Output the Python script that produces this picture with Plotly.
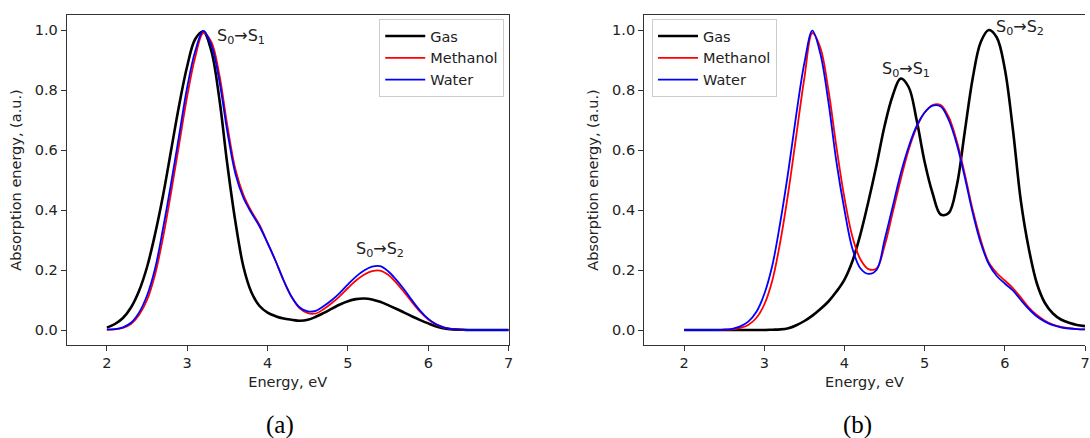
import plotly.graph_objects as go

# Energy grid (eV)
energy = [round(2.0 + 0.1 * i, 1) for i in range(51)]

# Panel (a)
a_gas = [0.008, 0.02, 0.04, 0.075, 0.13, 0.21, 0.32, 0.45, 0.60, 0.75,
         0.88, 0.97, 0.995, 0.93, 0.77, 0.55, 0.36, 0.21, 0.125, 0.08,
         0.058, 0.046, 0.038, 0.034, 0.031, 0.034, 0.044, 0.057, 0.071, 0.085,
         0.096, 0.103, 0.105, 0.102, 0.094, 0.083, 0.071, 0.058, 0.045, 0.033,
         0.022, 0.012, 0.005, 0.002, 0.001, 0.0, 0.0, 0.0, 0.0, 0.0, 0.0]
a_methanol = [0.001, 0.002, 0.007, 0.02, 0.05, 0.1, 0.185, 0.31, 0.46, 0.62,
              0.78, 0.91, 0.99, 0.96, 0.85, 0.68, 0.535, 0.45, 0.395, 0.35,
              0.29, 0.23, 0.165, 0.11, 0.072, 0.056, 0.055, 0.07, 0.09, 0.113,
              0.14, 0.165, 0.184, 0.196, 0.198, 0.184, 0.158, 0.126, 0.092, 0.06,
              0.035, 0.018, 0.008, 0.003, 0.001, 0.0, 0.0, 0.0, 0.0, 0.0, 0.0]
a_water = [0.001, 0.003, 0.009, 0.024, 0.058, 0.115, 0.205, 0.34, 0.49, 0.65,
           0.81, 0.93, 0.997, 0.95, 0.83, 0.66, 0.52, 0.44, 0.39, 0.345,
           0.29, 0.23, 0.165, 0.11, 0.075, 0.062, 0.064, 0.08, 0.10, 0.124,
           0.152, 0.178, 0.198, 0.211, 0.213, 0.196, 0.168, 0.135, 0.098, 0.064,
           0.037, 0.019, 0.008, 0.003, 0.001, 0.0, 0.0, 0.0, 0.0, 0.0, 0.0]

# Panel (b)
b_gas = [0.0, 0.0, 0.0, 0.0, 0.0, 0.0, 0.0, 0.0, 0.0, 0.0,
         0.0, 0.001, 0.002, 0.006, 0.016, 0.03, 0.048, 0.07, 0.095, 0.128,
         0.168, 0.23, 0.32, 0.43, 0.55, 0.68, 0.78, 0.838, 0.81, 0.70,
         0.56, 0.455, 0.385, 0.39, 0.48, 0.66, 0.84, 0.96, 1.0, 0.975,
         0.87, 0.67, 0.43, 0.27, 0.155, 0.09, 0.055, 0.035, 0.024, 0.017, 0.013]
b_methanol = [0.0, 0.0, 0.0, 0.0, 0.0, 0.001, 0.002, 0.007, 0.017, 0.04,
              0.085, 0.165, 0.295, 0.46, 0.65, 0.84, 0.99, 0.94, 0.80, 0.61,
              0.44, 0.31, 0.235, 0.203, 0.205, 0.28, 0.39, 0.50, 0.60, 0.675,
              0.725, 0.75, 0.75, 0.71, 0.63, 0.52, 0.40, 0.30, 0.225, 0.19,
              0.165, 0.14, 0.108, 0.075, 0.05, 0.031, 0.018, 0.01, 0.006, 0.003, 0.002]
b_water = [0.0, 0.0, 0.0, 0.0, 0.0, 0.001, 0.004, 0.012, 0.028, 0.06,
           0.12, 0.215, 0.36, 0.53, 0.72, 0.89, 0.998, 0.92, 0.76, 0.56,
           0.40, 0.27, 0.205, 0.187, 0.20, 0.30, 0.41, 0.52, 0.61, 0.68,
           0.725, 0.748, 0.745, 0.70, 0.62, 0.51, 0.39, 0.29, 0.22, 0.18,
           0.155, 0.132, 0.10, 0.07, 0.045, 0.028, 0.016, 0.009, 0.005, 0.003, 0.002]

series_names = ["Gas", "Methanol", "Water"]
series_colors = ["#000000", "#ff0000", "#0000ff"]
series_widths = [2.6, 1.8, 1.8]

x_ticks = [2, 3, 4, 5, 6, 7]
y_ticks = [0.0, 0.2, 0.4, 0.6, 0.8, 1.0]
y_tick_text = ["0.0", "0.2", "0.4", "0.6", "0.8", "1.0"]

W, H = 1090, 438
FONT = "DejaVu Sans"

fig = go.Figure()

for panel, (data, xa, ya, lg) in enumerate([
        ((a_gas, a_methanol, a_water), "x", "y", "legend"),
        ((b_gas, b_methanol, b_water), "x2", "y2", "legend2")]):
    for i, vals in enumerate(data):
        fig.add_trace(go.Scatter(
            x=energy, y=vals, mode="lines", name=series_names[i],
            line=dict(color=series_colors[i], width=series_widths[i],
                      shape="spline", smoothing=1.0),
            xaxis=xa, yaxis=ya, legend=lg,
            legendgroup=f"{lg}{i}", showlegend=True))

def xaxis_style(domain, mirror):
    return dict(domain=domain, range=[1.5, 7.0], tickvals=x_ticks,
                showline=True, linecolor="#333", linewidth=1, mirror=mirror,
                ticks="outside", ticklen=5, tickcolor="#333",
                showgrid=False, zeroline=False,
                tickfont=dict(family=FONT, size=14.5, color="#222"),
                title=dict(text="Energy, eV", standoff=6,
                           font=dict(family=FONT, size=14.5, color="#222")))

def yaxis_style(anchor, mirror):
    return dict(domain=[93 / H, 423 / H], range=[-0.05, 1.05], anchor=anchor,
                tickvals=y_ticks, ticktext=y_tick_text,
                showline=True, linecolor="#333", linewidth=1, mirror=mirror,
                ticks="outside", ticklen=5, tickcolor="#333",
                showgrid=False, zeroline=False,
                tickfont=dict(family=FONT, size=14.5, color="#222"),
                title=dict(text="Absorption energy, (a.u.)", standoff=9,
                           font=dict(family=FONT, size=14.5, color="#222")))

legend_style = dict(bgcolor="white", bordercolor="#cccccc", borderwidth=1,
                    font=dict(family=FONT, size=14.5, color="#222"),
                    xanchor="left", yanchor="top", tracegroupgap=0,
                    itemwidth=40)

fig.update_layout(
    width=W, height=H, autosize=False,
    margin=dict(l=0, r=0, t=0, b=0),
    paper_bgcolor="white", plot_bgcolor="white",
    xaxis=dict(xaxis_style([67 / W, 511 / W], True), anchor="y"),
    yaxis=yaxis_style("x", True),
    xaxis2=dict(xaxis_style([647 / W, 1.0], True), anchor="y2"),
    yaxis2=yaxis_style("x2", False),
    legend=dict(legend_style, x=381 / W, y=(H - 19) / H),
    legend2=dict(legend_style, x=655 / W, y=(H - 19) / H),
    showlegend=True,
)

ann_font = dict(family=FONT, size=16, color="#222")
fig.add_annotation(x=3.35, y=0.98, xref="x", yref="y", text="S<sub>0</sub>→S<sub>1</sub>",
                   showarrow=False, xanchor="left", yanchor="middle", font=ann_font)
fig.add_annotation(x=5.08, y=0.27, xref="x", yref="y", text="S<sub>0</sub>→S<sub>2</sub>",
                   showarrow=False, xanchor="left", yanchor="middle", font=ann_font)
fig.add_annotation(x=4.44, y=0.867, xref="x2", yref="y2", text="S<sub>0</sub>→S<sub>1</sub>",
                   showarrow=False, xanchor="left", yanchor="middle", font=ann_font)
fig.add_annotation(x=5.86, y=1.007, xref="x2", yref="y2", text="S<sub>0</sub>→S<sub>2</sub>",
                   showarrow=False, xanchor="left", yanchor="middle", font=ann_font)

cap_font = dict(family="Liberation Serif", size=25, color="#000")
fig.add_annotation(x=281 / W, y=(H - 425) / H, xref="paper", yref="paper", text="(a)",
                   showarrow=False, xanchor="center", yanchor="middle", font=cap_font)
fig.add_annotation(x=861 / W, y=(H - 425) / H, xref="paper", yref="paper", text="(b)",
                   showarrow=False, xanchor="center", yanchor="middle", font=cap_font)

fig.write_html("out.html")
